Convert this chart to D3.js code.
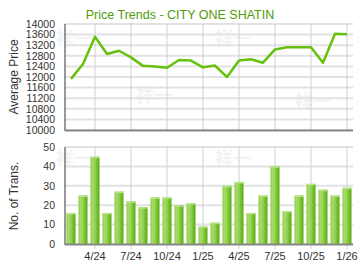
<!DOCTYPE html>
<html>
<head>
<meta charset="utf-8">
<script src="https://cdn.jsdelivr.net/npm/d3@7"></script>
<style>
  body { margin: 0; background: #fff; }
  text { font-family: "Liberation Sans", Arial, sans-serif; }
</style>
</head>
<body>
<div id="chart"></div>
<script>
// months shown, Feb 2024 .. Jan 2026
var months = ["2/24","3/24","4/24","5/24","6/24","7/24","8/24","9/24","10/24","11/24","12/24","1/25",
  "2/25","3/25","4/25","5/25","6/25","7/25","8/25","9/25","10/25","11/25","12/25","1/26"]
var avgPrice = [11930, 12490, 13520, 12870, 12990, 12740, 12420, 12400, 12350, 12640, 12620, 12365,
  12430, 12000, 12620, 12670, 12540, 13040, 13120, 13120, 13120, 12540, 13635, 13610]
var numTrans = [16, 25, 45, 16, 27, 22, 19, 24, 24, 20, 21, 9,
  11, 30, 32, 16, 25, 40, 17, 25, 31, 28, 25, 29]
var xTicks = ["4/24", "7/24", "10/24", "1/25", "4/25", "7/25", "10/25", "1/26"]
var priceTicks = [10000, 10400, 10800, 11200, 11600, 12000, 12400, 12800, 13200, 13600, 14000]
var transTicks = [0, 10, 20, 30, 40, 50]

var width = 360, height = 270
var left = 65, right = 353

var svg = d3.select("#chart").append("svg")
  .attr("width", width)
  .attr("height", height)

// bar gradient
var defs = svg.append("defs")
var grad = defs.append("linearGradient").attr("id", "barGrad")
  .attr("x1", "0%").attr("x2", "100%").attr("y1", "0%").attr("y2", "0%")
grad.append("stop").attr("offset", "0%").attr("stop-color", "#8ccc48")
grad.append("stop").attr("offset", "25%").attr("stop-color", "#a8dc6c")
grad.append("stop").attr("offset", "55%").attr("stop-color", "#8ccf48")
grad.append("stop").attr("offset", "80%").attr("stop-color", "#6cbb22")
grad.append("stop").attr("offset", "100%").attr("stop-color", "#5aa814")

var x = d3.scaleBand()
  .domain(months)
  .range([left, right])
  .paddingInner(0.25)
  .paddingOuter(0.125)
var xc = function (m) { return x(m) + x.bandwidth() / 2 }

// faint watermark
function watermark(px, py) {
  svg.append("text").attr("x", px).attr("y", py)
    .style("font-family", "'Noto Sans CJK SC', sans-serif")
    .style("font-size", "18px").style("font-weight", "bold")
    .style("fill", "#f3f3f3").text("祥一")
}
watermark(56, 45); watermark(136, 102); watermark(215, 45); watermark(295, 108)
watermark(56, 165); watermark(136, 222); watermark(215, 165); watermark(295, 225)

// ---------- price chart ----------
var yP = d3.scaleLinear().domain([10000, 14000]).range([130, 24])

svg.append("g").selectAll("line")
  .data(priceTicks)
  .enter().append("line")
  .attr("x1", left).attr("x2", right)
  .attr("y1", function (d) { return yP(d) }).attr("y2", function (d) { return yP(d) })
  .attr("stroke", "#e2e2e2").attr("stroke-width", 2)

svg.append("g").selectAll("line")
  .data(xTicks)
  .enter().append("line")
  .attr("x1", function (d) { return xc(d) }).attr("x2", function (d) { return xc(d) })
  .attr("y1", 24).attr("y2", 130)
  .attr("stroke", "#d0d0d0").attr("stroke-width", 1)

svg.append("g")
  .attr("transform", "translate(" + left + ",0)")
  .call(d3.axisLeft(yP).tickValues(priceTicks).tickSize(0).tickPadding(10).tickFormat(d3.format("d")))
  .call(function (g) { g.select(".domain").remove() })
  .selectAll("text")
  .style("font-size", "10.5px").style("fill", "#333")

var line = d3.line()
  .x(function (d, i) { return xc(months[i]) })
  .y(function (d) { return yP(d) })

svg.append("path")
  .datum(avgPrice)
  .attr("d", line)
  .attr("fill", "none")
  .attr("stroke", "#66c10e")
  .attr("stroke-width", 2.5)
  .attr("stroke-linejoin", "round")

svg.append("line").attr("x1", left).attr("x2", left).attr("y1", 24).attr("y2", 131)
  .attr("stroke", "#555").attr("stroke-width", 1.2)
svg.append("line").attr("x1", left).attr("x2", right).attr("y1", 130.5).attr("y2", 130.5)
  .attr("stroke", "#888").attr("stroke-width", 2)

svg.append("text")
  .attr("transform", "translate(18,77) rotate(-90)")
  .style("text-anchor", "middle").style("font-size", "12px").style("fill", "#333")
  .text("Average Price")

svg.append("text")
  .attr("x", 180).attr("y", 19)
  .style("text-anchor", "middle").style("font-size", "12.5px").style("fill", "#4f9c0a")
  .text("Price Trends - CITY ONE SHATIN")

// ---------- transactions chart ----------
var yT = d3.scaleLinear().domain([0, 50]).range([244, 147])

svg.append("g").selectAll("line")
  .data(transTicks)
  .enter().append("line")
  .attr("x1", left).attr("x2", right)
  .attr("y1", function (d) { return yT(d) }).attr("y2", function (d) { return yT(d) })
  .attr("stroke", "#e2e2e2").attr("stroke-width", 2)

svg.append("g").selectAll("line")
  .data(xTicks)
  .enter().append("line")
  .attr("x1", function (d) { return xc(d) }).attr("x2", function (d) { return xc(d) })
  .attr("y1", 147).attr("y2", 249)
  .attr("stroke", "#d0d0d0").attr("stroke-width", 1)

svg.append("g")
  .attr("transform", "translate(" + left + ",0)")
  .call(d3.axisLeft(yT).tickValues(transTicks).tickSize(0).tickPadding(10))
  .call(function (g) { g.select(".domain").remove() })
  .selectAll("text")
  .style("font-size", "10.5px").style("fill", "#333")

var bars = svg.append("g").selectAll("g")
  .data(numTrans)
  .enter().append("g")
bars.append("rect")
  .attr("x", function (d, i) { return x(months[i]) })
  .attr("y", function (d) { return yT(d) })
  .attr("width", x.bandwidth())
  .attr("height", function (d) { return yT(0) - yT(d) })
  .attr("fill", "url(#barGrad)")
bars.append("rect")
  .attr("x", function (d, i) { return x(months[i]) })
  .attr("y", function (d) { return yT(d) })
  .attr("width", x.bandwidth())
  .attr("height", 1.5)
  .attr("fill", "#b8e488")

svg.append("line").attr("x1", left).attr("x2", left).attr("y1", 147).attr("y2", 245)
  .attr("stroke", "#555").attr("stroke-width", 1.2)
svg.append("line").attr("x1", left).attr("x2", right).attr("y1", 244.5).attr("y2", 244.5)
  .attr("stroke", "#888").attr("stroke-width", 2)

svg.append("g").selectAll("text")
  .data(xTicks)
  .enter().append("text")
  .attr("x", function (d) { return xc(d) })
  .attr("y", 260)
  .style("text-anchor", "middle").style("font-size", "11px").style("fill", "#333")
  .text(function (d) { return d })

svg.append("text")
  .attr("transform", "translate(18,196) rotate(-90)")
  .style("text-anchor", "middle").style("font-size", "12px").style("fill", "#333")
  .text("No. of Trans.")
</script>
</body>
</html>
